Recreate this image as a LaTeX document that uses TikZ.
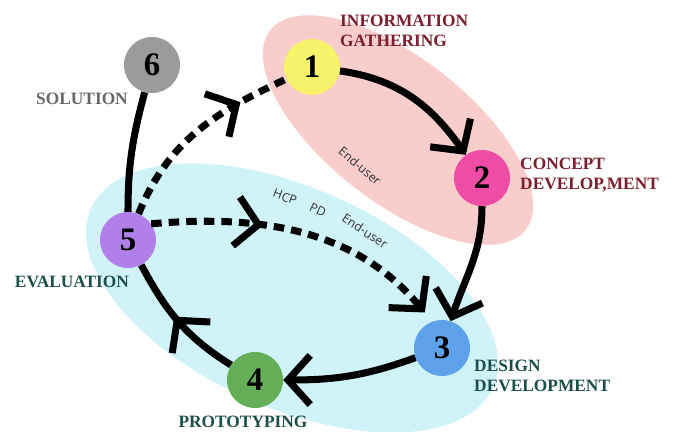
\documentclass[tikz,border=0pt]{standalone}
\usepackage{fontspec}
\setmainfont{Liberation Serif}
\newfontfamily\smallsans{Open Sans}
\usetikzlibrary{arrows.meta,decorations.markings}
\definecolor{stepyellow}{HTML}{F6F36A}
\definecolor{steppink}{HTML}{EE4CA5}
\definecolor{stepblue}{HTML}{5FA2EC}
\definecolor{stepgreen}{HTML}{64AE58}
\definecolor{steppurple}{HTML}{B07FE8}
\definecolor{stepgray}{HTML}{9B9B9B}
\definecolor{zonepink}{HTML}{F9CDCC}
\definecolor{zonecyan}{HTML}{D0F3F9}
\definecolor{labelred}{HTML}{7A1F2E}
\definecolor{labelteal}{HTML}{1D4F4A}
\definecolor{labelgray}{HTML}{666666}

\begin{document}
\begin{tikzpicture}[x=0.03cm, y=-0.03cm,
  stepnode/.style={circle, minimum size=1.68cm, inner sep=0pt,
                   font=\fontsize{28}{28}\selectfont\bfseries},
  phase/.style={font=\fontsize{14.8}{17}\selectfont\bfseries, align=left, inner sep=0pt},
  who/.style={font=\smallsans\fontsize{10.5}{11}\selectfont, text=black!80, inner sep=0pt},
  flow/.style={line width=6pt, -{Straight Barb[length=19pt, width=42pt]}},
  plain/.style={line width=6pt},
  loop/.style={line width=6pt, dash pattern=on 9pt off 6pt},
  midtip/.style={postaction={decorate, decoration={markings,
                 mark=at position #1 with {\arrow[line width=6pt]{Straight Barb[length=19pt, width=42pt]}}}}}
]
  \useasboundingbox (0,0) rectangle (676,432);
  \fill[white] (0,0) rectangle (676,432);

  % zones behind the cycle
  \fill[zonepink, rotate around={-38:(398,130)}] (398,130) ellipse (162 and 72);
  \fill[zonecyan, rotate around={-24:(292,298)}] (292,298) ellipse (220 and 110);

  \node[stepnode, fill=stepyellow] (n1) at (312,67) {1};
  \node[stepnode, fill=steppink] (n2) at (482,178) {2};
  \node[stepnode, fill=stepblue] (n3) at (442,348) {3};
  \node[stepnode, fill=stepgreen] (n4) at (255,380) {4};
  \node[stepnode, fill=steppurple] (n5) at (128,240) {5};
  \node[stepnode, fill=stepgray] (n6) at (152,65) {6};

  \node[phase, text=labelred, anchor=west] (info) at (340,31) {INFORMATION\\GATHERING};
  \node[phase, text=labelred, anchor=west] (concept) at (520,175) {CONCEPT\\DEVELOP,MENT};
  \node[phase, text=labelteal, anchor=west] (design) at (474,376) {DESIGN\\DEVELOPMENT};
  \node[phase, text=labelteal] (proto) at (243,422) {PROTOTYPING};
  \node[phase, text=labelteal] (eval) at (72,282) {EVALUATION};
  \node[phase, text=labelgray] (sol) at (82,99) {SOLUTION};

  \node[who, rotate=-41] (user1) at (360,166) {End-user};
  \node[who, rotate=-20] (hcp) at (285,197) {HCP};
  \node[who, rotate=-25] (pd) at (318,210) {PD};
  \node[who, rotate=-33] (user2) at (365,231) {End-user};

  % main cycle
  \draw[flow] (n1) to[out=-8, in=125] (n2);
  \draw[flow] (n2) to[out=-90, in=72] (n3);
  \draw[flow] (n3) to[out=200, in=0] (n4);
  \draw[plain, midtip=0.55] (n4) to[out=148, in=-62] (n5);
  \draw[plain] (n5) to[out=90, in=-105] (n6);

  % feedback loops
  \draw[loop, midtip=0.75] (n5) to[out=68, in=205] (n1);
  \draw[loop, midtip=0.36, shorten >=10pt, -{Straight Barb[length=19pt, width=42pt]}]
    (n5.35) to[out=5, in=130] (n3.110);
\end{tikzpicture}
\end{document}
